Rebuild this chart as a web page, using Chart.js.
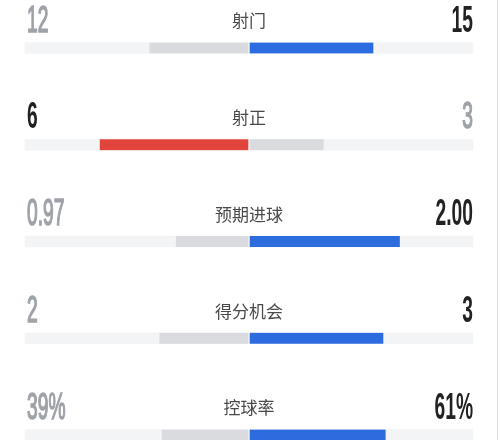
<!DOCTYPE html>
<html>
<head>
<meta charset="utf-8">
<script src="https://cdn.jsdelivr.net/npm/chart.js@4/dist/chart.umd.min.js"></script>
<style>
  html, body { margin: 0; padding: 0; background: #fff; }
  #wrap { position: relative; width: 500px; height: 440px; }
</style>
</head>
<body>
<div id="wrap"><canvas id="statsChart" width="500" height="440"></canvas></div>
<script>
// Match stats, home on the left, away on the right
const categories = ['射门', '射正', '预期进球', '得分机会', '控球率'];
const homeValues = [12, 6, 0.97, 2, 39];
const awayValues = [15, 3, 2.00, 3, 61];
const homeText = ['12', '6', '0.97', '2', '39%'];
const awayText = ['15', '3', '2.00', '3', '61%'];

const BLUE = '#2d6cdf';
const RED = '#e0443a';
const GREY = '#d9dbdf';
const TRACK = '#f3f4f6';

// each side gets its share of the half width
const homeBars = homeValues.map((v, i) => [-v / (v + awayValues[i]), 0]);
const awayBars = awayValues.map((v, i) => [0, v / (homeValues[i] + v)]);
const trackBars = categories.map(() => [-1, 1]);

const homeWins = homeValues.map((v, i) => v > awayValues[i]);

// numbers and stat names drawn above every bar
const textPlugin = {
  id: 'statText',
  afterDatasetsDraw(chart) {
    const { ctx, chartArea, scales } = chart;
    const cx = scales.x.getPixelForValue(0);
    ctx.save();
    categories.forEach((name, i) => {
      const y = scales.y.getPixelForValue(i);

      ctx.fillStyle = '#4a4a4a';
      ctx.font = '17px "Noto Sans CJK SC"';
      ctx.textAlign = 'center';
      ctx.textBaseline = 'middle';
      ctx.fillText(name, cx, y - 27);

      // condensed look for the digits
      ctx.textBaseline = 'alphabetic';
      const drawNum = (txt, x, align, strong) => {
        ctx.save();
        ctx.translate(x, y - 16.5);
        ctx.scale(0.52, 1);
        ctx.textAlign = align;
        ctx.font = (strong ? 'bold ' : '') + '37px "Liberation Sans"';
        ctx.fillStyle = strong ? '#222' : '#9fa3a9';
        ctx.fillText(txt, 0, 0);
        if (!strong) {
          ctx.strokeStyle = '#9fa3a9';
          ctx.lineWidth = 1.6;
          ctx.strokeText(txt, 0, 0);
        }
        ctx.restore();
      };
      drawNum(homeText[i], chartArea.left + 2, 'left', homeWins[i]);
      drawNum(awayText[i], chartArea.right, 'right', !homeWins[i]);
    });

    // thin frame line on the right edge
    ctx.strokeStyle = '#dcdcdc';
    ctx.lineWidth = 1;
    ctx.beginPath();
    ctx.moveTo(497.5, 0);
    ctx.lineTo(497.5, chart.height);
    ctx.stroke();
    ctx.restore();
  }
};

const ctx = document.getElementById('statsChart').getContext('2d');
new Chart(ctx, {
  type: 'bar',
  data: {
    labels: categories,
    datasets: [
      {
        label: 'home',
        data: homeBars,
        backgroundColor: homeWins.map(w => w ? RED : GREY),
        borderColor: TRACK,
        borderWidth: { top: 0, bottom: 0, left: 0, right: 1 },
        barThickness: 11,
        borderSkipped: false,
        clip: false,
        order: 1
      },
      {
        label: 'away',
        data: awayBars,
        backgroundColor: homeWins.map(w => w ? GREY : BLUE),
        borderColor: TRACK,
        borderWidth: { top: 0, bottom: 0, left: 1, right: 0 },
        barThickness: 11,
        borderSkipped: false,
        clip: false,
        order: 1
      },
      {
        label: 'track',
        data: trackBars,
        backgroundColor: TRACK,
        barThickness: 11,
        clip: false,
        order: 2
      }
    ]
  },
  options: {
    indexAxis: 'y',
    responsive: false,
    animation: false,
    devicePixelRatio: 1,
    layout: { padding: { left: 25, right: 27, top: 48, bottom: 5 } },
    scales: {
      x: { display: false, min: -1, max: 1 },
      y: { display: false, offset: false, stacked: false }
    },
    datasets: { bar: { grouped: false } },
    plugins: {
      legend: { display: false },
      tooltip: { enabled: false }
    }
  },
  plugins: [textPlugin]
});
</script>
</body>
</html>
